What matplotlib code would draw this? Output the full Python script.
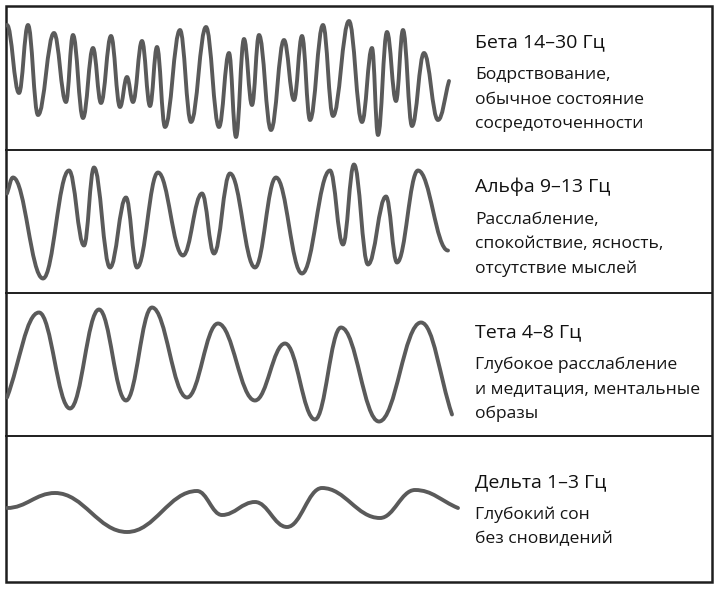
import numpy as np
import matplotlib
matplotlib.use("Agg")
from matplotlib import pyplot as plt
from matplotlib.path import Path
from matplotlib.patches import PathPatch, Rectangle

plt.rcParams['font.family'] = ['Open Sans', 'DejaVu Sans']

# wave extrema: time (px across) and amplitude (px from panel middle)
beta_t = [7, 19, 28, 38, 54, 66, 73, 83, 93, 101, 111, 120, 127, 133, 142, 150, 157, 165,
          180, 191, 206, 219, 229, 236, 244, 252, 259, 271, 284, 294, 302, 310, 323, 333,
          349, 362, 372, 378, 387, 396, 403, 412, 424, 438, 449]
beta_v = [53, -15, 53, -37, 45, -24, 43, -40, 30, -25, 42, -29, 1, -24, 37, -28, 31, -49,
          48, -44, 51, -49, 25, -59, 39, -27, 43, -52, 38, -22, 42, -42, 53, -38,
          57, -44, 30, -57, 46, -23, 48, -48, 25, -42, -3]

alpha_t = [7, 13, 43, 69, 84, 94, 110, 126, 137, 158, 183, 202, 214, 230, 255, 276, 302,
           330, 343, 354, 368, 386, 397, 418, 448]
alpha_v = [28, 44, -57, 51, -24, 54, -46, 24, -46, 49, -34, 28, -32, 48, -46, 44, -52,
           51, -23, 57, -43, 25, -41, 51, -29]

theta_t = [7, 39, 70, 99, 126, 152, 187, 218, 255, 285, 315, 341, 379, 421, 452]
theta_v = [-33, 52, -44, 55, -36, 57, -33, 41, -36, 21, -55, 37, -57, 42, -50]

delta_t = [7, 55, 127, 197, 222, 255, 287, 322, 380, 415, 458]
delta_v = [1, 16, -23, 18, -6, 7, -18, 21, -9, 19, 1]

titles = ["Бета 14–30 Гц", "Альфа 9–13 Гц", "Тета 4–8 Гц", "Дельта 1–3 Гц"]
notes = [
    ["Бодрствование,", "обычное состояние", "сосредоточенности"],
    ["Расслабление,", "спокойствие, ясность,", "отсутствие мыслей"],
    ["Глубокое расслабление", "и медитация, ментальные", "образы"],
    ["Глубокий сон", "без сновидений"],
]

waves = [(beta_t, beta_v, True, False),
         (alpha_t, alpha_v, False, True),
         (theta_t, theta_v, False, False),
         (delta_t, delta_v, True, False)]

W, H = 721, 589
panel_edges = [6, 150, 293, 436, 582]
left, right = 6, 712
title_y = [47, 192, 337, 487]
line_gap = 24.5


def wave_path(t, v, start_flat, end_flat, k=0.4):
    t = np.asarray(t, float)
    v = np.asarray(v, float)
    slope = np.zeros(len(t))
    if not start_flat:
        slope[0] = (v[1] - v[0]) / (t[1] - t[0])
    if not end_flat:
        slope[-1] = (v[-1] - v[-2]) / (t[-1] - t[-2])
    verts = [(t[0], v[0])]
    codes = [Path.MOVETO]
    for i in range(len(t) - 1):
        dx = t[i + 1] - t[i]
        verts += [(t[i] + k * dx, v[i] + slope[i] * k * dx),
                  (t[i + 1] - k * dx, v[i + 1] - slope[i + 1] * k * dx),
                  (t[i + 1], v[i + 1])]
        codes += [Path.CURVE4] * 3
    return Path(verts, codes)


fig = plt.figure(figsize=(W / 100, H / 100), dpi=100)
bg = fig.add_axes([0, 0, 1, 1])
bg.set_xlim(0, W)
bg.set_ylim(H, 0)
bg.axis('off')

frame_col = '#1e1e1e'
bg.add_patch(Rectangle((left, panel_edges[0]), right - left, panel_edges[-1] - panel_edges[0],
                       fill=False, ec=frame_col, lw=1.8))
for y in panel_edges[1:-1]:
    bg.plot([left, right], [y, y], color=frame_col, lw=1.4)

for i, (t, v, sf, ef) in enumerate(waves):
    top, bot = panel_edges[i], panel_edges[i + 1]
    ax = fig.add_axes([left / W, 1 - bot / H, (right - left) / W, (bot - top) / H])
    ax.set_xlim(left, right)
    h = bot - top
    ax.set_ylim(-h / 2, h / 2)
    ax.axis('off')
    ax.add_patch(PathPatch(wave_path(t, v, sf, ef), fill=False, ec='#5a5a5a', lw=2.8,
                           capstyle='round', joinstyle='round'))

    bg.text(475, title_y[i], titles[i], fontsize=14, color='#111111', va='baseline')
    for j, line in enumerate(notes[i]):
        bg.text(475, title_y[i] + 32 + j * line_gap, line, fontsize=12.6,
                color='#151515', va='baseline')

fig.savefig('out.png', dpi=100)
